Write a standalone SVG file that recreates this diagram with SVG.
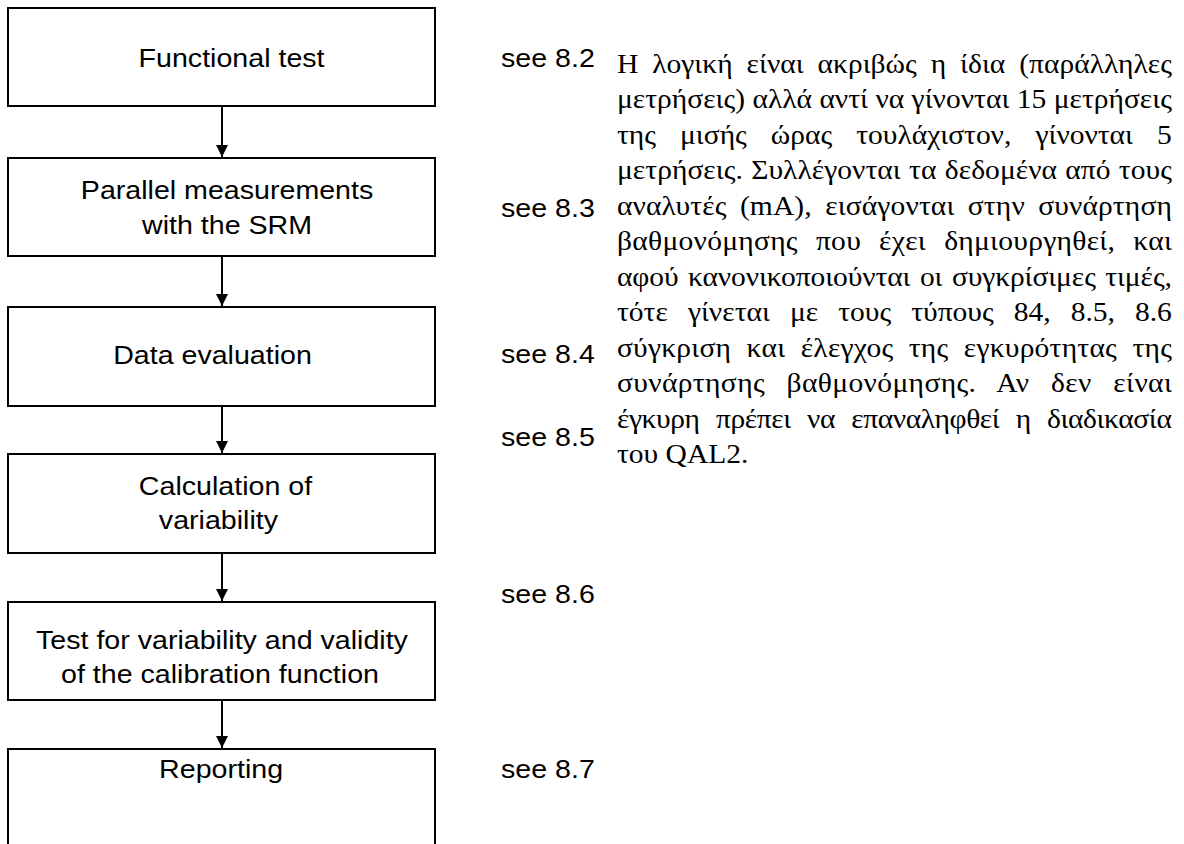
<svg xmlns="http://www.w3.org/2000/svg" width="1184" height="844" viewBox="0 0 1184 844">
<style>
.box{fill:#fff;stroke:#000;stroke-width:2}
.lbl{font-family:"Liberation Sans",Arial,sans-serif;font-size:26px;fill:#000;text-anchor:middle}
.see{font-family:"Liberation Sans",Arial,sans-serif;font-size:26px;fill:#000}
.gr{font-family:"Liberation Serif","Times New Roman",serif;font-size:28px;fill:#000}
.conn{stroke:#000;stroke-width:2;fill:none}
</style>
<defs>
<marker id="ah" markerUnits="userSpaceOnUse" markerWidth="12" markerHeight="13" refX="12" refY="6" orient="auto">
<path d="M0,0 L12,6 L0,12 Z" fill="#000"/>
</marker>
</defs>
<rect width="1184" height="844" fill="#fff"/>
<g id="n1"><rect class="box" x="8" y="8" width="427" height="98"/><text class="lbl" transform="scale(1.1,1)" x="210.5" y="67">Functional test</text></g>
<g id="n2"><rect class="box" x="8" y="158" width="427" height="98"/><text class="lbl" transform="scale(1.1,1)" x="206.4" y="199">Parallel measurements</text><text class="lbl" transform="scale(1.1,1)" x="206.4" y="234">with the SRM</text></g>
<g id="n3"><rect class="box" x="8" y="307" width="427" height="99"/><text class="lbl" transform="scale(1.1,1)" x="193.2" y="364">Data evaluation</text></g>
<g id="n4"><rect class="box" x="8" y="454" width="427" height="99"/><text class="lbl" transform="scale(1.1,1)" x="205" y="495">Calculation of</text><text class="lbl" transform="scale(1.1,1)" x="198.6" y="529">variability</text></g>
<g id="n5"><rect class="box" x="8" y="602" width="427" height="98"/><text class="lbl" transform="scale(1.1,1)" x="201.8" y="649">Test for variability and validity</text><text class="lbl" transform="scale(1.1,1)" x="200" y="683">of the calibration function</text></g>
<g id="n6"><rect class="box" x="8" y="749" width="427" height="120"/><text class="lbl" transform="scale(1.1,1)" x="201" y="778">Reporting</text></g>
<g id="connectors">
<line class="conn" x1="222" y1="107" x2="222" y2="157" marker-end="url(#ah)"/>
<line class="conn" x1="222" y1="257" x2="222" y2="306" marker-end="url(#ah)"/>
<line class="conn" x1="222" y1="407" x2="222" y2="453" marker-end="url(#ah)"/>
<line class="conn" x1="222" y1="554" x2="222" y2="601" marker-end="url(#ah)"/>
<line class="conn" x1="222" y1="701" x2="222" y2="748" marker-end="url(#ah)"/>
</g>
<g id="refs">
<text class="see" transform="scale(1.1,1)" x="455.5" y="67">see 8.2</text>
<text class="see" transform="scale(1.1,1)" x="455.5" y="217">see 8.3</text>
<text class="see" transform="scale(1.1,1)" x="455.5" y="363">see 8.4</text>
<text class="see" transform="scale(1.1,1)" x="455.5" y="446">see 8.5</text>
<text class="see" transform="scale(1.1,1)" x="455.5" y="603">see 8.6</text>
<text class="see" transform="scale(1.1,1)" x="455.5" y="778">see 8.7</text>
</g>
<g id="paragraph" transform="scale(1.055,1)">
<text class="gr" x="584.8" y="73" word-spacing="6.2" textLength="526" lengthAdjust="spacing">Η λογική είναι ακριβώς η ίδια (παράλληλες</text>
<text class="gr" x="584.8" y="108.5" textLength="526" lengthAdjust="spacing">μετρήσεις) αλλά αντί να γίνονται 15 μετρήσεις</text>
<text class="gr" x="584.8" y="144" word-spacing="15.9" textLength="526" lengthAdjust="spacing">της μισής ώρας τουλάχιστον, γίνονται 5</text>
<text class="gr" x="584.8" y="179.5" word-spacing="0.8" textLength="526" lengthAdjust="spacing">μετρήσεις. Συλλέγονται τα δεδομένα από τους</text>
<text class="gr" x="584.8" y="215" word-spacing="5.5" textLength="526" lengthAdjust="spacing">αναλυτές (mA), εισάγονται στην συνάρτηση</text>
<text class="gr" x="584.8" y="250.5" word-spacing="9.9" textLength="526" lengthAdjust="spacing">βαθμονόμησης που έχει δημιουργηθεί, και</text>
<text class="gr" x="584.8" y="286" word-spacing="2.1" textLength="526" lengthAdjust="spacing">αφού κανονικοποιούνται οι συγκρίσιμες τιμές,</text>
<text class="gr" x="584.8" y="321.5" word-spacing="12" textLength="526" lengthAdjust="spacing">τότε γίνεται με τους τύπους 84, 8.5, 8.6</text>
<text class="gr" x="584.8" y="357" word-spacing="7.4" textLength="526" lengthAdjust="spacing">σύγκριση και έλεγχος της εγκυρότητας της</text>
<text class="gr" x="584.8" y="392.5" word-spacing="13.1" textLength="526" lengthAdjust="spacing">συνάρτησης βαθμονόμησης. Αν δεν είναι</text>
<text class="gr" x="584.8" y="428" word-spacing="8.8" textLength="526" lengthAdjust="spacing">έγκυρη πρέπει να επαναληφθεί η διαδικασία</text>
<text class="gr" x="584.8" y="463.5">του QAL2.</text>
</g>
</svg>
